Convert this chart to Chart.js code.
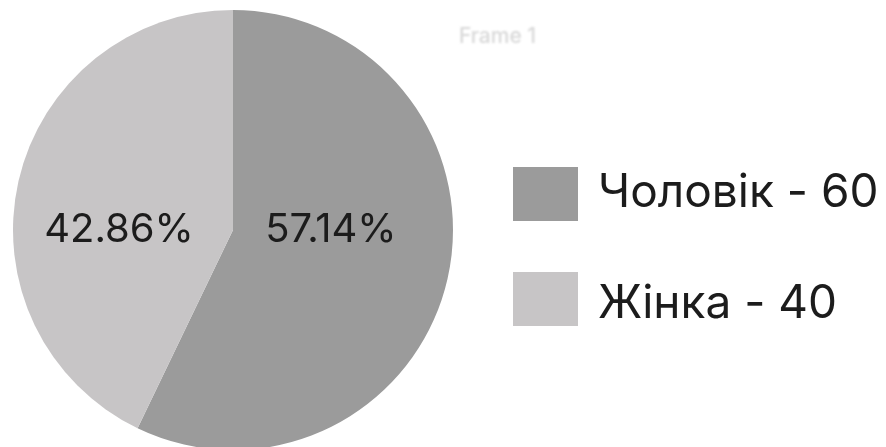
<!DOCTYPE html>
<html>
<head>
<meta charset="utf-8">
<script src="https://cdn.jsdelivr.net/npm/chart.js@4/dist/chart.umd.min.js"></script>
<style>
  html, body { margin: 0; padding: 0; background: #ffffff; overflow: hidden; }
  #wrap { position: relative; width: 886px; height: 447px; overflow: hidden; }
  canvas { display: block; }
</style>
</head>
<body>
<div id="wrap"><canvas id="pie" width="886" height="450"></canvas></div>
<script>
// Respondents by gender
const categories = ['Чоловік', 'Жінка'];
const counts = [60, 40];            // numbers shown in the legend
const shares = [57.14, 42.86];      // percentages shown on the slices
const sliceColors = ['#9b9b9b', '#c7c5c6'];
const frameTitle = 'Frame 1';

const FONT = 'Inter, "Noto Sans", "DejaVu Sans", sans-serif';

// Percentage labels drawn inside each slice, on the pie's horizontal midline
const sliceLabels = {
  id: 'sliceLabels',
  afterDatasetsDraw(chart, args, opts) {
    const ctx = chart.ctx;
    const meta = chart.getDatasetMeta(0);
    ctx.save();
    ctx.font = opts.font;
    ctx.fillStyle = opts.color;
    ctx.textAlign = 'center';
    ctx.textBaseline = 'middle';
    meta.data.forEach((arc, i) => {
      const p = arc.getProps(['x', 'y', 'startAngle', 'endAngle', 'outerRadius'], true);
      const mid = (p.startAngle + p.endAngle) / 2;
      const side = Math.cos(mid) >= 0 ? opts.reachRight : -opts.reachLeft;
      const x = p.x + side * p.outerRadius;
      const y = p.y + opts.dy;
      ctx.fillText(chart.data.datasets[0].data[i].toFixed(2) + '%', x, y);
    });
    ctx.restore();
  }
};

// Legend to the right of the pie: colour box, category name and count
const sideLegend = {
  id: 'sideLegend',
  afterDraw(chart, args, opts) {
    const ctx = chart.ctx;
    const colors = chart.data.datasets[0].backgroundColor;
    ctx.save();
    chart.data.labels.forEach((label, i) => {
      ctx.fillStyle = colors[i];
      ctx.fillRect(opts.boxX, opts.boxTop + i * opts.boxStep, opts.boxW, opts.boxH);
      ctx.fillStyle = opts.color;
      ctx.font = opts.font;
      ctx.textAlign = 'left';
      ctx.textBaseline = 'alphabetic';
      ctx.fillText(label + ' - ' + counts[i], opts.textX, opts.baseTop + i * opts.textStep);
    });
    // faint frame caption
    ctx.filter = 'blur(0.9px)';
    ctx.fillStyle = opts.captionColor;
    ctx.font = opts.captionFont;
    ctx.fillText(frameTitle, opts.captionX, opts.captionY);
    ctx.restore();
  }
};

new Chart(document.getElementById('pie'), {
  type: 'pie',
  data: {
    labels: categories,
    datasets: [{
      data: shares,
      backgroundColor: sliceColors,
      borderWidth: 0,
      hoverOffset: 0
    }]
  },
  options: {
    responsive: false,
    devicePixelRatio: 1,
    animation: false,
    events: [],
    layout: { padding: { left: 13, top: 10, right: 433, bottom: 0 } },
    plugins: {
      legend: { display: false },
      tooltip: { enabled: false },
      sliceLabels: {
        font: '400 40px ' + FONT,
        color: '#1c1c1c',
        reachRight: 0.445,
        reachLeft: 0.518,
        dy: 0
      },
      sideLegend: {
        boxX: 513, boxTop: 167, boxStep: 105, boxW: 65, boxH: 54,
        textX: 598, baseTop: 207, textStep: 111,
        font: '400 46px ' + FONT,
        color: '#1c1c1c',
        captionFont: '500 21px ' + FONT,
        captionColor: '#d8d8d8',
        captionX: 459, captionY: 43
      }
    }
  },
  plugins: [sliceLabels, sideLegend]
});
</script>
</body>
</html>
